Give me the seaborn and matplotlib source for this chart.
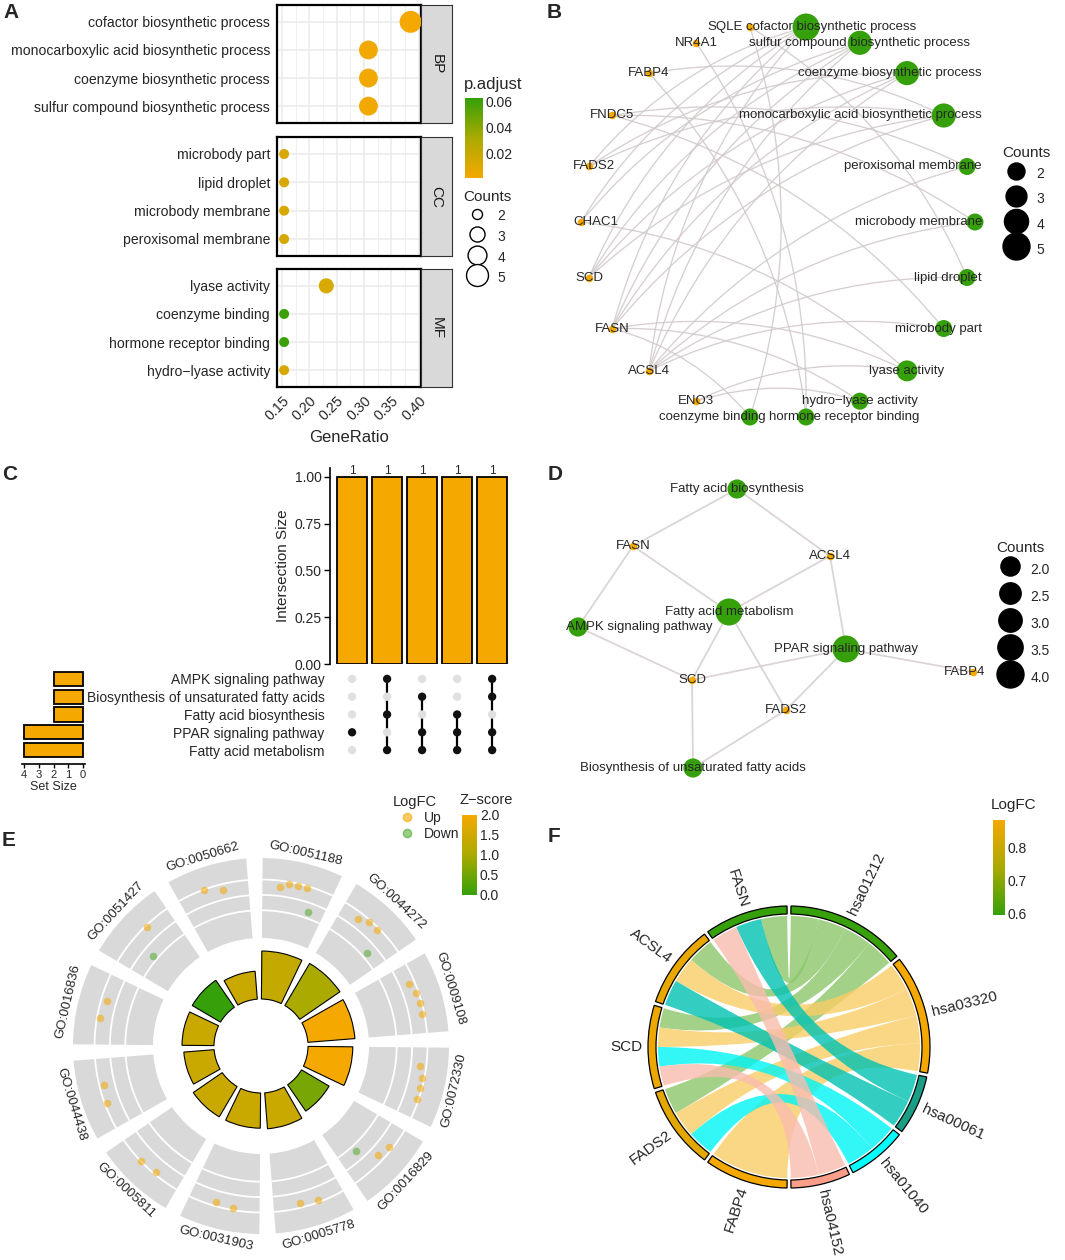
"""Six-panel enrichment figure: GO dot plot, cnet plots, UpSet, GO circle and KEGG chord."""

import matplotlib

matplotlib.use("Agg")
import matplotlib.pyplot as plt
import numpy as np
import pandas as pd
import seaborn as sns
from matplotlib.cm import ScalarMappable
from matplotlib.colors import LinearSegmentedColormap, Normalize
from matplotlib.lines import Line2D
from matplotlib.patches import PathPatch, Wedge
from matplotlib.path import Path

W, H = 1065, 1260
ORANGE = "#F5A800"
GREEN = "#35A00A"
MID = "#AAAA00"
EDGE_GREY = "#D2CACA"
MINUS = "\u2212"

# ---------------- data ----------------
# GO enrichment (panels A, B, E)
go_terms = ["cofactor biosynthetic process", "monocarboxylic acid biosynthetic process",
            "coenzyme biosynthetic process", "sulfur compound biosynthetic process",
            "microbody part", "lipid droplet", "microbody membrane", "peroxisomal membrane",
            "lyase activity", "coenzyme binding", "hormone receptor binding",
            f"hydro{MINUS}lyase activity"]
go_ontology = ["BP"] * 4 + ["CC"] * 4 + ["MF"] * 4
go_ratio = [0.385, 0.308, 0.308, 0.308, 0.154, 0.154, 0.154, 0.154, 0.231, 0.154, 0.154, 0.154]
go_count = [5, 4, 4, 4, 2, 2, 2, 2, 3, 2, 2, 2]
go_padj = [0.0012, 0.0020, 0.0020, 0.0020, 0.0130, 0.0130, 0.0130, 0.0130,
           0.0125, 0.0610, 0.0610, 0.0130]
go_neglog10_p = [3.0, 2.8, 2.95, 3.05, 1.9, 2.2, 2.2, 2.25, 2.0, 1.75, 2.05, 2.0]
go_ids = ["GO:0051188", "GO:0072330", "GO:0009108", "GO:0044272", "GO:0044438", "GO:0005811",
          "GO:0031903", "GO:0005778", "GO:0016829", "GO:0050662", "GO:0051427", "GO:0016836"]
go_genes = ["FASN/ACSL4/SCD/FADS2/CHAC1", "FASN/SCD/FADS2/FABP4", "FASN/ACSL4/SCD/FADS2",
            "FASN/ACSL4/SCD/CHAC1", "ACSL4/FNDC5", "ACSL4/SQLE", "ACSL4/FNDC5", "ACSL4/FNDC5",
            "ENO3/FASN/CHAC1", "SQLE/FASN", "NR4A1/FABP4", "ENO3/FASN"]

gene_symbols = ["SQLE", "NR4A1", "FABP4", "FNDC5", "FADS2", "CHAC1", "SCD", "FASN", "ACSL4", "ENO3"]
gene_logfc = [0.95, -0.70, 0.885, 0.72, 0.85, -0.62, 0.87, 0.594, 0.86, 0.78]

# order of nodes around the circular cnet layout (clockwise, starting near the top)
cnet_order = ["cofactor biosynthetic process", "sulfur compound biosynthetic process",
              "coenzyme biosynthetic process", "monocarboxylic acid biosynthetic process",
              "peroxisomal membrane", "microbody membrane", "lipid droplet", "microbody part",
              "lyase activity", f"hydro{MINUS}lyase activity", "hormone receptor binding",
              "coenzyme binding", "ENO3", "ACSL4", "FASN", "SCD", "CHAC1", "FADS2", "FNDC5",
              "FABP4", "NR4A1", "SQLE"]

# GO circle order (clockwise from 12 o'clock)
circle_order = ["GO:0051188", "GO:0044272", "GO:0009108", "GO:0072330", "GO:0016829",
                "GO:0005778", "GO:0031903", "GO:0005811", "GO:0044438", "GO:0016836",
                "GO:0051427", "GO:0050662"]

# KEGG enrichment (panels C, D, F)
kegg_ids = ["hsa01212", "hsa03320", "hsa00061", "hsa01040", "hsa04152"]
kegg_names = ["Fatty acid metabolism", "PPAR signaling pathway", "Fatty acid biosynthesis",
              "Biosynthesis of unsaturated fatty acids", "AMPK signaling pathway"]
kegg_genes = ["FASN/FADS2/ACSL4/SCD", "FABP4/FADS2/ACSL4/SCD", "FASN/ACSL4", "FADS2/SCD", "FASN/SCD"]

upset_rows = ["AMPK signaling pathway", "Biosynthesis of unsaturated fatty acids",
              "Fatty acid biosynthesis", "PPAR signaling pathway", "Fatty acid metabolism"]
upset_cols = ["FABP4", "FASN", "FADS2", "ACSL4", "SCD"]

# force-directed layout of the KEGG cnet plot (layout units)
d_nodes = ["Fatty acid biosynthesis", "FASN", "ACSL4", "Fatty acid metabolism",
           "AMPK signaling pathway", "PPAR signaling pathway", "FABP4", "SCD", "FADS2",
           "Biosynthesis of unsaturated fatty acids"]
d_layout_x = [1.77, 0.73, 2.70, 1.69, 0.18, 2.86, 4.13, 1.32, 2.26, 1.33]
d_layout_y = [3.01, 2.44, 2.34, 1.78, 1.63, 1.41, 1.18, 1.10, 0.80, 0.22]

chord_gene_order = ["FABP4", "FADS2", "SCD", "ACSL4", "FASN"]
chord_sector_colors = ["#38A00A", "#F5A800", "#1A9E86", "#00FFFF", "#FA9E8A"]
chord_link_colors = ["#8CC66B", "#F9CD66", "#00C2B2", "#00F5F5", "#F9BCAE"]

# ---------------- figure ----------------
sns.set_style("white")
plt.rcParams["font.family"] = ["Liberation Sans", "DejaVu Sans"]
fig = plt.figure(figsize=(W / 100, H / 100), dpi=100)


def px_axes(x0, y0, x1, y1, **kw):
    return fig.add_axes([x0 / W, 1 - y1 / H, (x1 - x0) / W, (y1 - y0) / H], **kw)


def fig_text(x, y, s, **kw):
    return fig.text(x / W, 1 - y / H, s, **kw)


def place_labels(ax, xs, ys, names, xmin, xmax, fontsize, iters=300):
    """Centre labels on nodes, then push overlapping ones apart and keep them inside xmin..xmax."""
    texts = [ax.text(x, y, s, ha="center", va="center", fontsize=fontsize, zorder=6)
             for x, y, s in zip(xs, ys, names)]
    renderer = fig.canvas.get_renderer()
    half = np.array([[t.get_window_extent(renderer).width / 2 + 1,
                      t.get_window_extent(renderer).height / 2 - 1] for t in texts])
    cen = ax.transData.transform(np.column_stack([xs, ys]))
    for _ in range(iters):
        moved = False
        for i in range(len(cen)):
            for j in range(i + 1, len(cen)):
                d = cen[j] - cen[i]
                if (half[i, 0] + half[j, 0] > abs(d[0])) and (half[i, 1] + half[j, 1] > abs(d[1])):
                    u = d / (np.hypot(*d) + 1e-9)
                    cen[i] -= u
                    cen[j] += u
                    moved = True
        cen[:, 0] = np.clip(cen[:, 0], xmin + half[:, 0], xmax - half[:, 0])
        if not moved:
            break
    for t, xy in zip(texts, ax.transData.inverted().transform(cen)):
        t.set_position(xy)


def size_legend(values, labels, sizes_fn, x, y, open_marker=False, handleheight=1.6):
    handles = [Line2D([], [], ls="", marker="o", markersize=np.sqrt(sizes_fn(v)),
                      markerfacecolor="white" if open_marker else "black",
                      markeredgecolor="black", markeredgewidth=1.0) for v in values]
    fig.legend(handles, labels, title="Counts", loc="upper left", bbox_to_anchor=(x / W, 1 - y / H),
               frameon=False, fontsize=10, title_fontsize=11, labelspacing=0.2,
               handletextpad=0.5, borderpad=0, borderaxespad=0, handleheight=handleheight,
               alignment="left")


def linear_sizes(lo_v, hi_v, lo_s, hi_s):
    return lambda v: lo_s + (v - lo_v) / (hi_v - lo_v) * (hi_s - lo_s)


logfc = dict(zip(gene_symbols, gene_logfc))
cmap_up = LinearSegmentedColormap.from_list("green_orange", [GREEN, MID, ORANGE])

# ---------------- A: GO dot plot ----------------
go = pd.DataFrame({"term": go_terms, "ontology": go_ontology, "ratio": go_ratio,
                   "count": go_count, "padj": go_padj})
p_norm = Normalize(0.0005, 0.063)
p_cmap = LinearSegmentedColormap.from_list("padj", [ORANGE, MID, GREEN])
A_SIZES = (52, 250)
for ont, y0, y1 in [("BP", 5, 123), ("CC", 137, 256), ("MF", 269, 387)]:
    sub = go[go["ontology"] == ont].reset_index(drop=True)
    sub["row"] = np.arange(len(sub))
    ax = px_axes(277, y0, 421, y1)
    sns.scatterplot(data=sub, x="ratio", y="row", hue="padj", palette=p_cmap, hue_norm=p_norm,
                    size="count", sizes=A_SIZES, size_norm=(2, 5), linewidth=0, legend=False,
                    ax=ax, zorder=3, clip_on=False)
    ax.set_xlim(0.141, 0.404)
    ax.set_ylim(3.6, -0.6)
    ax.set_xticks(np.arange(0.15, 0.401, 0.05))
    ax.set_xticks(np.arange(0.175, 0.40, 0.05), minor=True)
    ax.set_yticks(sub["row"], sub["term"])
    ax.grid(True, which="major", color="#EBEBEB", lw=1.1)
    ax.grid(True, which="minor", axis="x", color="#F0F0F0", lw=0.8)
    ax.set_axisbelow(True)
    ax.tick_params(axis="y", length=3, width=0.8, color="#333333", labelsize=10.1, pad=2)
    ax.tick_params(axis="x", which="minor", length=0)
    ax.set_xlabel("")
    ax.set_ylabel("")
    for sp in ax.spines.values():
        sp.set_color("black")
        sp.set_linewidth(1.6)
    if ont == "MF":
        ax.set_xticklabels([f"{v:.2f}" for v in np.arange(0.15, 0.401, 0.05)], rotation=45,
                           ha="right", rotation_mode="anchor", fontsize=10.3)
        ax.tick_params(axis="x", which="major", length=3, width=0.8, color="#333333", pad=2)
    else:
        ax.set_xticklabels([])
        ax.tick_params(axis="x", which="major", length=0)
    strip = px_axes(421, y0, 452, y1)
    strip.set_facecolor("#D9D9D9")
    strip.set_xticks([])
    strip.set_yticks([])
    for sp in strip.spines.values():
        sp.set_color("#333333")
        sp.set_linewidth(0.8)
    strip.text(0.5, 0.5, ont, rotation=-90, ha="center", va="center", fontsize=11,
               color="#1A1A1A", transform=strip.transAxes)
fig_text(349, 438, "GeneRatio", ha="center", va="center", fontsize=12)

cax = px_axes(465, 98, 483, 178)
cb = fig.colorbar(ScalarMappable(norm=p_norm, cmap=p_cmap), cax=cax, ticks=[0.02, 0.04, 0.06])
cb.outline.set_visible(False)
cax.tick_params(length=3, color="white", direction="in", labelsize=10, pad=2)
fig_text(464, 85, "p.adjust", ha="left", va="center", fontsize=12)
size_legend([2, 3, 4, 5], ["2", "3", "4", "5"], linear_sizes(2, 5, *A_SIZES), 463, 190,
            open_marker=True, handleheight=1.6)

# ---------------- B: circular GO cnet plot ----------------
B_CENTER, B_RADIUS = (778, 222), 197
n_nodes = len(cnet_order)
ang = np.deg2rad(90 - 360 * (np.arange(n_nodes) + 0.5) / n_nodes)
pos_b = {name: (B_CENTER[0] + B_RADIUS * np.cos(a), B_CENTER[1] - B_RADIUS * np.sin(a))
         for name, a in zip(cnet_order, ang)}
ax_b = px_axes(530, 0, 1000, 445)


def curved_edge(ax, p, q, bend, **kw):
    mx, my = (p[0] + q[0]) / 2, (p[1] + q[1]) / 2
    dx, dy = q[0] - p[0], q[1] - p[1]
    ctrl = (mx + bend * dy, my - bend * dx)
    ax.add_patch(PathPatch(Path([p, ctrl, q], [Path.MOVETO, Path.CURVE3, Path.CURVE3]),
                           fill=False, **kw))


for term, genes in zip(go_terms, go_genes):
    for g in genes.split("/"):
        curved_edge(ax_b, pos_b[g], pos_b[term], 0.16, edgecolor=EDGE_GREY, lw=0.95, alpha=0.9,
                    zorder=1)

b_terms = pd.DataFrame({"name": go_terms, "count": go_count})
b_terms["x"] = [pos_b[t][0] for t in go_terms]
b_terms["y"] = [pos_b[t][1] for t in go_terms]
B_SIZES = (150, 378)
sns.scatterplot(data=b_terms, x="x", y="y", size="count", sizes=B_SIZES, size_norm=(2, 5),
                color=GREEN, linewidth=0, legend=False, ax=ax_b, zorder=3)
b_genes = pd.DataFrame({"name": gene_symbols})
b_genes["x"] = [pos_b[g][0] for g in gene_symbols]
b_genes["y"] = [pos_b[g][1] for g in gene_symbols]
sns.scatterplot(data=b_genes, x="x", y="y", s=30, color=ORANGE, linewidth=0, legend=False,
                ax=ax_b, zorder=3)
ax_b.set_xlim(530, 1000)
ax_b.set_ylim(445, 0)
ax_b.axis("off")
b_all = pd.concat([b_terms, b_genes])
place_labels(ax_b, b_all["x"].values, b_all["y"].values, b_all["name"].values, 572, 983, 9.5)
size_legend([2, 3, 4, 5], ["2", "3", "4", "5"], linear_sizes(2, 5, *B_SIZES), 1002, 146,
            handleheight=2.1)

# ---------------- C: UpSet plot ----------------
kegg_sets = {name: genes.split("/") for name, genes in zip(kegg_names, kegg_genes)}
membership = {g: tuple(r for r in upset_rows if g in kegg_sets[r]) for g in upset_cols}
inter_size = [sum(membership[g2] == membership[g] for g2 in upset_cols) for g in upset_cols]
set_size = [len(kegg_sets[r]) for r in upset_rows]

ax_ci = px_axes(330, 468, 510, 664)
sns.barplot(data=pd.DataFrame({"col": np.arange(5), "size": inter_size}), x="col", y="size",
            color=ORANGE, saturation=1, edgecolor="black", linewidth=1.3, width=0.857, ax=ax_ci)
ax_ci.bar_label(ax_ci.containers[0], fontsize=8.5, padding=0)
ax_ci.set_xlim(-0.63, 4.51)
ax_ci.set_ylim(0, 1.048)
ax_ci.set_yticks([0, 0.25, 0.5, 0.75, 1.0], ["0.00", "0.25", "0.50", "0.75", "1.00"])
ax_ci.set_xticks([])
ax_ci.set_xlabel("")
ax_ci.set_ylabel("Intersection Size", fontsize=11, labelpad=3)
for side in ["top", "right", "bottom"]:
    ax_ci.spines[side].set_visible(False)
ax_ci.spines["left"].set_color("black")
ax_ci.spines["left"].set_linewidth(1.2)
ax_ci.tick_params(axis="y", length=4, width=1.0, color="black", labelsize=10, pad=2, left=True)

ax_cm = px_axes(330, 670, 510, 759)
grid = pd.DataFrame([(c, r, upset_rows[r] in membership[g]) for c, g in enumerate(upset_cols)
                     for r in range(len(upset_rows))], columns=["col", "row", "active"])
for c, g in enumerate(upset_cols):
    act = grid[(grid["col"] == c) & grid["active"]]["row"]
    ax_cm.plot([c, c], [act.min(), act.max()], color="black", lw=1.6, zorder=2)
sns.scatterplot(data=grid, x="col", y="row", hue="active", palette={True: "#111111", False: "#E0E0E0"},
                s=36, linewidth=0, legend=False, ax=ax_cm, zorder=3)
ax_cm.set_xlim(-0.63, 4.51)
ax_cm.set_ylim(4.5, -0.5)
ax_cm.set_yticks(range(len(upset_rows)), upset_rows)
ax_cm.set_xticks([])
ax_cm.set_xlabel("")
ax_cm.set_ylabel("")
ax_cm.tick_params(axis="y", length=0, labelsize=10, pad=4)
for sp in ax_cm.spines.values():
    sp.set_visible(False)

ax_cs = px_axes(22, 670, 85, 764)
sns.barplot(data=pd.DataFrame({"row": upset_rows, "size": set_size}), x="size", y="row",
            orient="h", color=ORANGE, saturation=1, edgecolor="black", linewidth=1.3, width=0.8,
            ax=ax_cs)
ax_cs.set_xlim(4.14, -0.14)
ax_cs.set_ylim(4.78, -0.5)
ax_cs.set_xticks([4, 3, 2, 1, 0])
ax_cs.set_yticks([])
ax_cs.set_ylabel("")
ax_cs.set_xlabel("Set Size", fontsize=9, labelpad=1)
for side in ["top", "right", "left"]:
    ax_cs.spines[side].set_visible(False)
ax_cs.spines["bottom"].set_color("black")
ax_cs.spines["bottom"].set_linewidth(1.2)
ax_cs.tick_params(axis="x", length=3, width=1.0, color="black", labelsize=8, pad=1, bottom=True)

# ---------------- D: KEGG cnet plot ----------------
ax_d = px_axes(540, 470, 1000, 790)
pos_d = {n: (x, y) for n, x, y in zip(d_nodes, d_layout_x, d_layout_y)}
for name, genes in zip(kegg_names, kegg_genes):
    for g in genes.split("/"):
        ax_d.plot([pos_d[name][0], pos_d[g][0]], [pos_d[name][1], pos_d[g][1]], color="#DCD5D5",
                  lw=1.3, zorder=1)
d_path = pd.DataFrame({"name": kegg_names, "count": [len(kegg_sets[n]) for n in kegg_names]})
d_path["x"] = [pos_d[n][0] for n in kegg_names]
d_path["y"] = [pos_d[n][1] for n in kegg_names]
D_SIZES = (190, 378)
sns.scatterplot(data=d_path, x="x", y="y", size="count", sizes=D_SIZES, size_norm=(2, 4),
                color=GREEN, linewidth=0, legend=False, ax=ax_d, zorder=3)
d_gene_names = [n for n in d_nodes if n not in kegg_names]
d_gene = pd.DataFrame({"name": d_gene_names})
d_gene["x"] = [pos_d[n][0] for n in d_gene_names]
d_gene["y"] = [pos_d[n][1] for n in d_gene_names]
sns.scatterplot(data=d_gene, x="x", y="y", s=30, color=ORANGE, linewidth=0, legend=False,
                ax=ax_d, zorder=3)
ax_d.set_xlim(-0.2, 4.4)
ax_d.set_ylim(0, 3.2)
ax_d.axis("off")
d_all = pd.concat([d_path, d_gene])
place_labels(ax_d, d_all["x"].values, d_all["y"].values, d_all["name"].values, 565, 986, 9.5)
size_legend([2.0, 2.5, 3.0, 3.5, 4.0], ["2.0", "2.5", "3.0", "3.5", "4.0"],
            linear_sizes(2, 4, *D_SIZES), 996, 541, handleheight=2.3)

# ---------------- E: GO circle ----------------
genes_of_id = dict(zip(go_ids, go_genes))
p_of_id = dict(zip(go_ids, go_neglog10_p))
ax_e = px_axes(51, 836, 471, 1256, projection="polar")

R_IN, R_OUT = 108, 188
LFC_LO, LFC_HI = -2.8, 2.4
SECTOR = 25.0
z_norm = Normalize(0, 2)


def lfc_radius(v):
    return R_IN + (v - LFC_LO) / (LFC_HI - LFC_LO) * (R_OUT - R_IN)


dots = []
for i, gid in enumerate(circle_order):
    a0 = 30 * i + 0.5
    centre = np.deg2rad(a0 + SECTOR / 2)
    ax_e.bar(centre, R_OUT - R_IN, width=np.deg2rad(SECTOR), bottom=R_IN, color="#D9D9D9",
             linewidth=0, zorder=1)
    arc = np.linspace(np.deg2rad(a0), np.deg2rad(a0 + SECTOR), 40)
    for lv in [-1, 0, 1]:
        ax_e.plot(arc, np.full_like(arc, lfc_radius(lv)), color="white", lw=1.3, zorder=2)
    genes = genes_of_id[gid].split("/")
    ups = sum(logfc[g] > 0 for g in genes)
    z = (ups - (len(genes) - ups)) / np.sqrt(len(genes))
    ax_e.bar(centre, 16 * p_of_id[gid], width=np.deg2rad(SECTOR), bottom=47,
             color=cmap_up(z_norm(z)), edgecolor="black", linewidth=0.8, zorder=2)
    for j, g in enumerate(genes):
        frac = (j + 1) / (len(genes) + 1)
        dots.append((np.deg2rad(a0 + 3 + frac * (SECTOR - 6)), lfc_radius(logfc[g]),
                     "Up" if logfc[g] > 0 else "Down"))
    rot = (-(a0 + SECTOR / 2)) % 360
    if 90 < rot < 270:
        rot -= 180
    ax_e.text(centre, 198, gid, rotation=rot, rotation_mode="anchor", ha="center",
              va="center", fontsize=9.5)
dots = pd.DataFrame(dots, columns=["theta", "r", "direction"])
sns.scatterplot(data=dots[dots["direction"] == "Up"], x="theta", y="r", color=ORANGE, alpha=0.55,
                s=30, linewidth=0, legend=False, ax=ax_e, zorder=3)
sns.scatterplot(data=dots[dots["direction"] == "Down"], x="theta", y="r", color=GREEN, alpha=0.45,
                s=30, linewidth=0, legend=False, ax=ax_e, zorder=3)
ax_e.set_theta_zero_location("N")
ax_e.set_theta_direction(-1)
ax_e.set_ylim(0, 210)
ax_e.set_axis_off()

e_handles = [Line2D([], [], ls="", marker="o", markersize=6, color=ORANGE, alpha=0.6),
             Line2D([], [], ls="", marker="o", markersize=6, color=GREEN, alpha=0.5)]
fig.legend(e_handles, ["Up", "Down"], title="LogFC", loc="upper left",
           bbox_to_anchor=(393 / W, 1 - 795 / H), frameon=False, fontsize=10, title_fontsize=10.5,
           labelspacing=0.15, handletextpad=0.2, borderpad=0, borderaxespad=0, alignment="left")
cax_e = px_axes(462, 815, 477, 895)
cb_e = fig.colorbar(ScalarMappable(norm=z_norm, cmap=cmap_up), cax=cax_e,
                    ticks=[0, 0.5, 1.0, 1.5, 2.0])
cb_e.outline.set_visible(False)
cax_e.set_yticklabels(["0.0", "0.5", "1.0", "1.5", "2.0"])
cax_e.tick_params(length=3, color="white", direction="in", labelsize=10, pad=2)
fig_text(460, 800, f"Z{MINUS}score", ha="left", va="center", fontsize=10.5)

# ---------------- F: KEGG chord diagram ----------------
ax_f = px_axes(580, 840, 1000, 1260)
ax_f.set_xlim(-209, 211)
ax_f.set_ylim(-213, 207)
ax_f.set_aspect("equal")
ax_f.axis("off")

GAP = 1.6
half_span = 180 - 5 * GAP
kegg_count = [len(g.split("/")) for g in kegg_genes]
unit = half_span / sum(kegg_count)
gene_span = half_span / len(chord_gene_order)
links_of_gene = {g: [k for k, gs in zip(kegg_ids, kegg_genes) if g in gs.split("/")]
                 for g in chord_gene_order}

gene_seg, start = {}, 270 - GAP / 2
for g in chord_gene_order:
    gene_seg[g] = (start, start - gene_span)
    start -= gene_span + GAP
path_seg, start = {}, 90 - GAP / 2
for k, n in zip(kegg_ids, kegg_count):
    path_seg[k] = (start, start - n * unit)
    start -= n * unit + GAP

# sub-segments for every link, clockwise inside each sector
gene_link_pos = {}
for g in chord_gene_order:
    s0, s1 = gene_seg[g]
    ks = [k for k in reversed(kegg_ids) if k in links_of_gene[g]]
    w = (s0 - s1) / len(ks)
    for m, k in enumerate(ks):
        gene_link_pos[(g, k)] = (s0 - m * w, s0 - (m + 1) * w)
path_link_pos = {}
for k, gs in zip(kegg_ids, kegg_genes):
    s0, s1 = path_seg[k]
    members = [g for g in reversed(chord_gene_order) if g in gs.split("/")]
    for m, g in enumerate(members):
        path_link_pos[(g, k)] = (s0 - m * unit, s0 - (m + 1) * unit)


def arc_pts(a0, a1, r, n=40):
    t = np.deg2rad(np.linspace(a0, a1, n))
    return [(r * np.cos(v), r * np.sin(v)) for v in t]


def ribbon(ga, pa, r):
    verts = arc_pts(ga[0], ga[1], r)
    codes = [Path.MOVETO] + [Path.LINETO] * (len(verts) - 1)
    pv = arc_pts(pa[0], pa[1], r)
    verts += [(0, 0), pv[0]] + pv[1:] + [(0, 0), verts[0]]
    codes += [Path.CURVE3, Path.CURVE3] + [Path.LINETO] * (len(pv) - 1) + [Path.CURVE3, Path.CURVE3]
    return Path(verts, codes)


R_CHORD, R_RING = 131, 141
for k, col in zip(kegg_ids, chord_link_colors):
    for g in chord_gene_order:
        if k in links_of_gene[g]:
            ax_f.add_patch(PathPatch(ribbon(gene_link_pos[(g, k)], path_link_pos[(g, k)], R_CHORD),
                                     facecolor=col, edgecolor="none", alpha=0.8, zorder=1))

f_norm = Normalize(min(logfc[g] for g in chord_gene_order), max(logfc[g] for g in chord_gene_order))
label_r = 147
for g in chord_gene_order:
    s0, s1 = gene_seg[g]
    ax_f.add_patch(Wedge((0, 0), R_RING, s1, s0, width=8, facecolor=cmap_up(f_norm(logfc[g])),
                         edgecolor="black", lw=0.9, zorder=2))
    mid = (s0 + s1) / 2
    ax_f.text(label_r * np.cos(np.deg2rad(mid)), label_r * np.sin(np.deg2rad(mid)), g,
              rotation=mid - 180, rotation_mode="anchor", ha="right", va="center", fontsize=11)
for k, col in zip(kegg_ids, chord_sector_colors):
    s0, s1 = path_seg[k]
    ax_f.add_patch(Wedge((0, 0), R_RING, s1, s0, width=8, facecolor=col, edgecolor="black",
                         lw=0.9, zorder=2))
    mid = (s0 + s1) / 2
    ax_f.text(label_r * np.cos(np.deg2rad(mid)), label_r * np.sin(np.deg2rad(mid)), k,
              rotation=mid, rotation_mode="anchor", ha="left", va="center", fontsize=11)

cax_f = px_axes(993, 820, 1005, 915)
cb_f = fig.colorbar(ScalarMappable(norm=f_norm, cmap=cmap_up), cax=cax_f, ticks=[0.6, 0.7, 0.8])
cb_f.outline.set_visible(False)
cax_f.tick_params(length=3, color="white", direction="in", labelsize=10, pad=2)
fig_text(991, 805, "LogFC", ha="left", va="center", fontsize=11)

# ---------------- panel letters ----------------
for letter, x, y in [("A", 3, 12), ("B", 547, 12), ("C", 2, 475), ("D", 548, 475),
                     ("E", 2, 840), ("F", 548, 837)]:
    fig_text(x, y, letter, ha="left", va="center", fontsize=15, fontweight="bold")

fig.savefig("out.png", dpi=100)
